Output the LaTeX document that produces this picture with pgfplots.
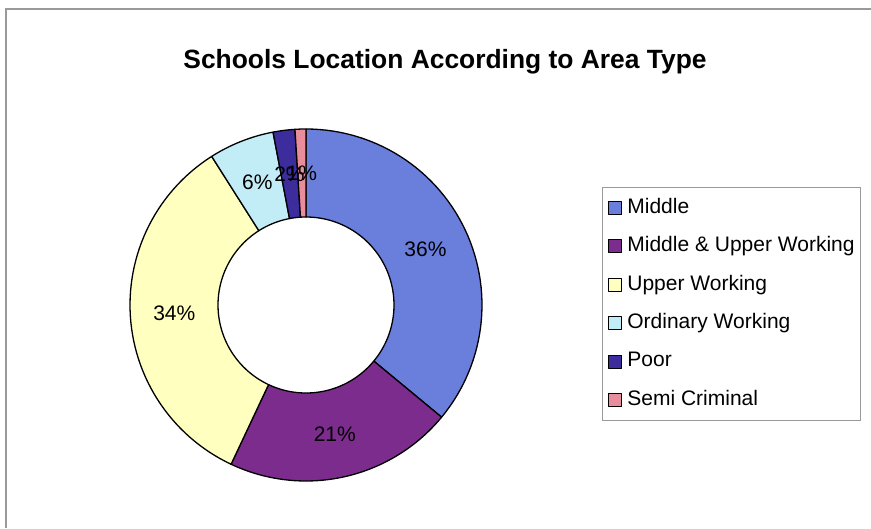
\documentclass[border=0pt]{standalone}
\usepackage{pgfplots}
\pgfplotsset{compat=1.18}
\usepackage{pgfplotstable}
\usepackage{fontspec}
\setmainfont{Liberation Sans}

\definecolor{cMid}{HTML}{6A7EDC}
\definecolor{cMUW}{HTML}{7B2C8C}
\definecolor{cUW}{HTML}{FFFFC0}
\definecolor{cOW}{HTML}{C2ECF6}
\definecolor{cPoor}{HTML}{3C2C9C}
\definecolor{cSC}{HTML}{E98C9C}
\definecolor{frame}{HTML}{9A9A9A}

% shares of the schools by area type (percent)
\pgfplotstableread{
pct
36
21
34
6
2
1
}\areadata

\pgfplotstablegetelem{0}{pct}\of\areadata \let\pA\pgfplotsretval
\pgfplotstablegetelem{1}{pct}\of\areadata \let\pB\pgfplotsretval
\pgfplotstablegetelem{2}{pct}\of\areadata \let\pC\pgfplotsretval
\pgfplotstablegetelem{3}{pct}\of\areadata \let\pD\pgfplotsretval
\pgfplotstablegetelem{4}{pct}\of\areadata \let\pE\pgfplotsretval
\pgfplotstablegetelem{5}{pct}\of\areadata \let\pF\pgfplotsretval

\def\cx{306}\def\cy{223}\def\RO{176}\def\RI{88}\def\RL{132}
\pgfmathsetmacro\aA{90}
\pgfmathsetmacro\aB{\aA-3.6*\pA}
\pgfmathsetmacro\aC{\aB-3.6*\pB}
\pgfmathsetmacro\aD{\aC-3.6*\pC}
\pgfmathsetmacro\aE{\aD-3.6*\pD}
\pgfmathsetmacro\aF{\aE-3.6*\pE}
\pgfmathsetmacro\aG{\aF-3.6*\pF}

\newcommand\slice[4]{%
  \addplot[fill=#1, draw=black, line width=1.3pt, line join=round,
    domain=0:4, samples=241]
    ({\cx+ringrad(x)*cos(ringang(x,#2,#3))},{\cy+ringrad(x)*sin(ringang(x,#2,#3))});
  \addlegendentry{#4}
}
\newcommand\plabel[3]{%
  \node[font=\fontsize{21}{24}\selectfont, inner sep=0pt]
    at (axis cs:{\cx+\RL*cos((#1+#2)/2)},{\cy+\RL*sin((#1+#2)/2)}) {#3\%};
}

\begin{document}
\begin{tikzpicture}
\begin{axis}[
  width=871pt, height=528pt, scale only axis,
  xmin=0, xmax=871, ymin=0, ymax=528,
  hide axis, clip=false,
  declare function={
    ringrad(\t)=ifthenelse(\t<1,\RO,ifthenelse(\t<2,\RO-(\RO-\RI)*(\t-1),ifthenelse(\t<3,\RI,\RI+(\RO-\RI)*(\t-3))));
    ringang(\t,\a,\b)=ifthenelse(\t<1,\a+(\b-\a)*\t,ifthenelse(\t<2,\b,ifthenelse(\t<3,\b-(\b-\a)*(\t-2),\a)));
  },
  legend image code/.code={\draw[#1,draw=black,line width=1pt] (0pt,-6.5pt) rectangle (13pt,6.5pt);},
  legend cell align=left,
  legend style={at={(axis cs:602,341)}, anchor=north west,
    draw=frame, line width=0.8pt, fill=white,
    inner xsep=6pt, inner ysep=11pt,
    font=\fontsize{21}{21}\selectfont,
    row sep=19pt, column sep=5pt,
    nodes={inner sep=0pt, text height=15pt, text depth=4.4pt}},
]
\slice{cMid}{\aA}{\aB}{Middle}
\slice{cMUW}{\aB}{\aC}{Middle \& Upper Working}
\slice{cUW}{\aC}{\aD}{Upper Working}
\slice{cOW}{\aD}{\aE}{Ordinary Working}
\slice{cPoor}{\aE}{\aF}{Poor}
\slice{cSC}{\aF}{\aG}{Semi Criminal}

\plabel{\aA}{\aB}{\pA}
\plabel{\aB}{\aC}{\pB}
\plabel{\aC}{\aD}{\pC}
\plabel{\aD}{\aE}{\pD}
\plabel{\aE}{\aF}{\pE}
\plabel{\aF}{\aG}{\pF}

\node[font=\bfseries\fontsize{26.4}{30}\selectfont] at (axis cs:445,466) {Schools Location According to Area Type};
\draw[frame, line width=1.5pt] (axis cs:6,0) -- (axis cs:6,519) -- (axis cs:871,519);
\end{axis}
\pgfresetboundingbox
\path[use as bounding box] (0,0) rectangle (871pt,528pt);
\end{tikzpicture}
\end{document}
